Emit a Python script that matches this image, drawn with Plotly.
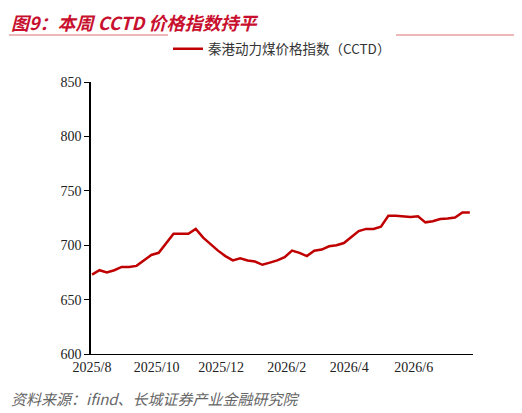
import plotly.graph_objects as go
import pandas as pd

dates = pd.date_range("2025-08-01", periods=52, freq="7D")
values = [673, 677, 675, 677, 680, 680, 681, 686, 691, 693, 702, 710.5, 710.5, 710.5, 715,
          707, 701, 695, 690, 686, 688, 686, 685, 682, 684, 686, 689, 695, 693, 690, 695,
          696, 699, 700, 702, 707.5, 713, 715, 715, 717, 727, 727, 726.5, 726, 726.5, 721,
          722, 724, 724.5, 725.5, 730, 730]
tick_vals = pd.to_datetime(["2025-08-01", "2025-10-01", "2025-12-01", "2026-02-01", "2026-04-01", "2026-06-01"])
tick_text = ["2025/8", "2025/10", "2025/12", "2026/2", "2026/4", "2026/6"]

# page has 8px body margin: work in page pixel coords, offset by 8
W, H = 514, 405
L, R, T, B = 91 - 8, 522 - 473, 82 - 8, 413 - 354
fig = go.Figure(go.Scatter(x=dates, y=values, mode="lines", name="秦港动力煤价格指数（CCTD）",
                           line=dict(color="#C00000", width=2.5)))
fig.update_layout(
    width=W, height=H, margin=dict(l=L, r=R, t=T, b=B),
    plot_bgcolor="white", paper_bgcolor="white",
    font=dict(family="Liberation Serif", size=14, color="#222"),
    showlegend=True,
    legend=dict(orientation="h", x=0.5, xanchor="center", yanchor="middle",
                font=dict(family="Noto Sans CJK SC", size=13.5, color="#333")),
    xaxis=dict(range=[dates[0] - pd.Timedelta(days=1), dates[-1] + pd.Timedelta(days=3)],
               tickvals=tick_vals, ticktext=tick_text, showgrid=False,
               showline=True, linecolor="black", ticks=""),
    yaxis=dict(range=[600, 850], dtick=50, showgrid=False, showline=True, linecolor="black",
               linewidth=1.5, ticks="outside", ticklen=5, tickcolor="black"),
)
pw = W - L - R
ph = H - T - B
def py(pix): return (H - B - (pix - 8)) / ph
def px(pix): return ((pix - 8) - L) / pw
fig.add_annotation(text="<b><i>图9：本周 CCTD 价格指数持平</i></b>", x=px(9), y=py(22), xref="paper", yref="paper",
                   showarrow=False, xanchor="left", yanchor="middle",
                   font=dict(family="Noto Sans CJK SC", size=18, color="#C8102E"))
fig.add_annotation(text="<i>资料来源：ifind、长城证券产业金融研究院</i>", x=px(9), y=py(398), xref="paper", yref="paper",
                   showarrow=False, xanchor="left", yanchor="middle",
                   font=dict(family="Noto Sans CJK SC", size=15, color="#666"))
fig.add_shape(type="line", xref="paper", yref="paper", x0=px(9), x1=px(516), y0=py(35), y1=py(35),
              line=dict(color="#E8A0A0", width=1.5))
fig.update_layout(legend_y=py(49))
fig.write_html("out.html")
